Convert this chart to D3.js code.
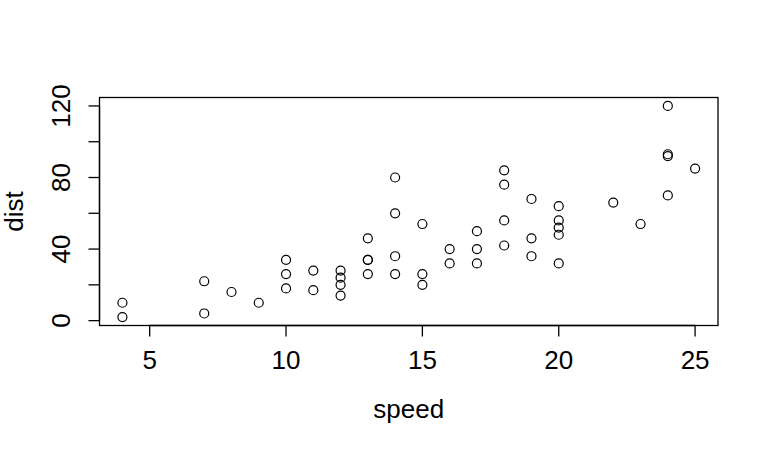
<!DOCTYPE html>
<html>
<head>
  <meta charset="utf-8">
  <script src="https://cdnjs.cloudflare.com/ajax/libs/d3/7.8.5/d3.min.js"></script>
  <style>
    body { margin: 0; background: #fff; }
    text { font-family: "Liberation Sans", Arial, sans-serif; fill: #000; }
  </style>
</head>
<body>
<script>
// cars data
var speed = [4,4,7,7,8,9,10,10,10,11,11,12,12,12,12,13,13,13,13,14,14,14,14,15,15,15,16,16,17,17,17,18,18,18,18,19,19,19,20,20,20,20,20,22,23,24,24,24,24,25];
var dist = [2,10,4,22,16,10,18,26,34,17,28,14,20,24,28,26,34,34,46,26,36,60,80,20,26,54,32,40,32,40,50,42,56,76,84,36,46,68,32,48,52,56,64,66,54,70,92,93,120,85];
var xTicks = [5,10,15,20,25];
var yTicks = [0,20,40,60,80,100,120];
var yLabels = [0,40,80,120];

var W = 768, H = 450;
var box = {left: 99.5, right: 718, top: 97.5, bottom: 325.5};
var fs = "26px";

var svg = d3.select("body").append("svg")
    .attr("width", W)
    .attr("height", H);

// R style 4% axis extension
var xr = d3.extent(speed), yr = d3.extent(dist);
var xpad = (xr[1] - xr[0]) * 0.04, ypad = (yr[1] - yr[0]) * 0.04;
var x = d3.scaleLinear().domain([xr[0] - xpad, xr[1] + xpad]).range([box.left, box.right]);
var y = d3.scaleLinear().domain([yr[0] - ypad, yr[1] + ypad]).range([box.bottom, box.top]);

svg.append("rect")
  .attr("x", box.left).attr("y", box.top)
  .attr("width", box.right - box.left).attr("height", box.bottom - box.top)
  .attr("fill", "none").attr("stroke", "#000").attr("stroke-width", 1.3);

// x axis
var xAxis = svg.append("g").attr("transform", "translate(0," + box.bottom + ")");
xAxis.append("line")
  .attr("x1", x(xTicks[0])).attr("x2", x(xTicks[xTicks.length - 1]))
  .attr("stroke", "#000").attr("stroke-width", 1.3);
xAxis.selectAll(".tk").data(xTicks).enter().append("line")
  .attr("x1", d => x(d)).attr("x2", d => x(d))
  .attr("y1", 0).attr("y2", 11)
  .attr("stroke", "#000").attr("stroke-width", 1.3);
xAxis.selectAll(".lb").data(xTicks).enter().append("text")
  .attr("x", d => x(d)).attr("y", 43.5)
  .attr("text-anchor", "middle")
  .style("font-size", fs)
  .text(d => d);

// y axis
var yAxis = svg.append("g").attr("transform", "translate(" + box.left + ",0)");
yAxis.append("line")
  .attr("y1", y(yTicks[0])).attr("y2", y(yTicks[yTicks.length - 1]))
  .attr("stroke", "#000").attr("stroke-width", 1.3);
yAxis.selectAll(".tk").data(yTicks).enter().append("line")
  .attr("y1", d => y(d)).attr("y2", d => y(d))
  .attr("x1", 0).attr("x2", -11)
  .attr("stroke", "#000").attr("stroke-width", 1.3);
yAxis.selectAll(".lb").data(yLabels).enter().append("text")
  .attr("transform", d => "translate(-29.5," + y(d) + ") rotate(-90)")
  .attr("text-anchor", "middle")
  .style("font-size", fs)
  .text(d => d);

// axis titles
svg.append("text")
  .attr("x", (box.left + box.right) / 2).attr("y", 418)
  .attr("text-anchor", "middle")
  .style("font-size", fs)
  .text("speed");
svg.append("text")
  .attr("transform", "translate(23," + ((box.top + box.bottom) / 2) + ") rotate(-90)")
  .attr("text-anchor", "middle")
  .style("font-size", fs)
  .text("dist");

// points
svg.selectAll("circle")
  .data(speed.map((s, i) => [s, dist[i]]))
  .enter().append("circle")
  .attr("cx", d => x(d[0]))
  .attr("cy", d => y(d[1]))
  .attr("r", 4.5)
  .attr("fill", "none")
  .attr("stroke", "#000")
  .attr("stroke-width", 1.2);
</script>
</body>
</html>
